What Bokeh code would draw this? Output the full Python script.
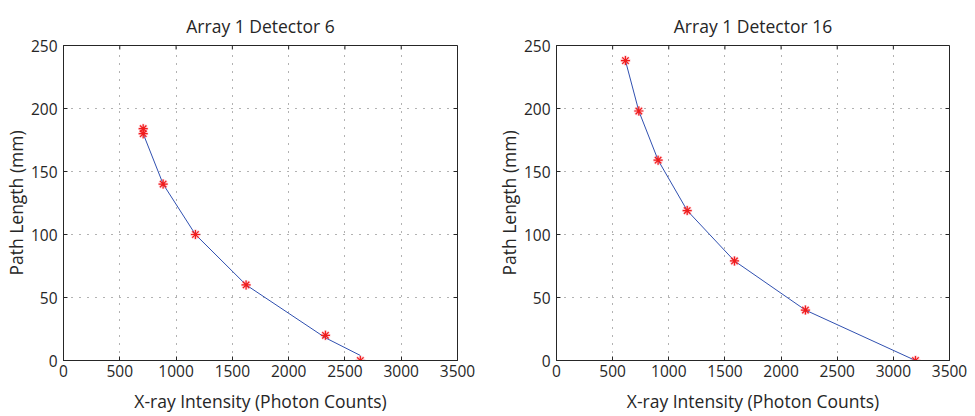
from bokeh.plotting import figure
from bokeh.models import Range1d, FixedTicker
from bokeh.layouts import row
from bokeh.embed import file_html
from bokeh.resources import INLINE

# ---- data ----
x_ticks = [0, 500, 1000, 1500, 2000, 2500, 3000, 3500]
y_ticks = [0, 50, 100, 150, 200, 250]

d6_title = "Array 1 Detector 6"
d6_marker_x = [708, 708, 885, 1172, 1622, 2327, 2637]
d6_marker_y = [184, 180, 140, 100, 60, 20, 0]
d6_line_x = [708, 885, 1172, 1622, 2327, 2637]
d6_line_y = [180, 140, 100, 60, 18, 4]

d16_title = "Array 1 Detector 16"
d16_marker_x = [614, 733, 905, 1164, 1585, 2217, 3197]
d16_marker_y = [238, 198, 159, 119, 79, 40, 0]
d16_line_x = [614, 733, 905, 1164, 1585, 2217, 3197]
d16_line_y = [238, 198, 159, 119, 79, 40, 0]

x_label = "X-ray Intensity (Photon Counts)"
y_label = "Path Length (mm)"

X_MAX, Y_MAX = 3500, 250
FONT = "Open Sans"
TXT = "#262626"
TICK_PX = 4
FRAME_W, FRAME_H = 394, 315


def make_plot(title, mx, my, lx, ly, width, left, right):
    p = figure(width=width, height=416, title=title,
               x_range=Range1d(0, X_MAX), y_range=Range1d(0, Y_MAX),
               output_backend="svg", toolbar_location=None,
               min_border_left=left, min_border_right=right,
               min_border_top=45, min_border_bottom=56)
    p.background_fill_color = "white"
    p.border_fill_color = "white"
    p.outline_line_color = TXT
    p.outline_line_width = 1
    p.outline_line_alpha = 1

    p.title.align = "center"
    p.title.text_font = FONT
    p.title.text_font_size = "17.5px"
    p.title.text_font_style = "normal"
    p.title.text_color = TXT
    p.title.standoff = 16

    xa = p.below[0]
    ya = p.left[0]
    for ax, ticks in ((xa, x_ticks), (ya, y_ticks)):
        ax.ticker = FixedTicker(ticks=ticks)
        ax.major_tick_in = TICK_PX
        ax.major_tick_out = 0
        ax.minor_tick_in = 0
        ax.minor_tick_out = 0
        ax.major_tick_line_color = TXT
        ax.axis_line_color = TXT
        ax.major_label_text_font = FONT
        ax.major_label_text_font_size = "15.5px"
        ax.major_label_text_color = TXT
        ax.axis_label_text_font = FONT
        ax.axis_label_text_font_size = "17.5px"
        ax.axis_label_text_font_style = "normal"
        ax.axis_label_text_color = TXT
    xa.axis_label = x_label
    ya.axis_label = y_label
    xa.major_label_standoff = 4
    ya.major_label_standoff = 6
    xa.axis_label_standoff = 9
    ya.axis_label_standoff = 0

    for g, ticks in ((p.xgrid[0], x_ticks), (p.ygrid[0], y_ticks)):
        g.ticker = FixedTicker(ticks=ticks)
        g.grid_line_color = "#555555"
        g.grid_line_dash = "1 7"
        g.grid_line_width = 1
        g.grid_line_alpha = 0.9

    # mirrored inward ticks on the top and right edges of the box
    dy = Y_MAX * TICK_PX / FRAME_H
    dx = X_MAX * TICK_PX / FRAME_W
    p.segment(x0=x_ticks, y0=[Y_MAX] * len(x_ticks),
              x1=x_ticks, y1=[Y_MAX - dy] * len(x_ticks),
              line_color=TXT, line_width=1)
    p.segment(x0=[X_MAX] * len(y_ticks), y0=y_ticks,
              x1=[X_MAX - dx] * len(y_ticks), y1=y_ticks,
              line_color=TXT, line_width=1)

    p.line(lx, ly, line_color="#3050b0", line_width=1)
    p.scatter(mx, my, marker="asterisk", size=10, line_color="#ff5a6a",
              line_width=2.5, line_alpha=0.35)
    p.scatter(mx, my, marker="asterisk", size=9, line_color="#f01c1c",
              line_width=1.2)
    return p


p1 = make_plot(d6_title, d6_marker_x, d6_marker_y, d6_line_x, d6_line_y,
               480, 63, 23)
p2 = make_plot(d16_title, d16_marker_x, d16_marker_y, d16_line_x, d16_line_y,
               495, 76, 26)

layout = row(p1, p2)
open("out.html", "w").write(file_html(layout, INLINE))
